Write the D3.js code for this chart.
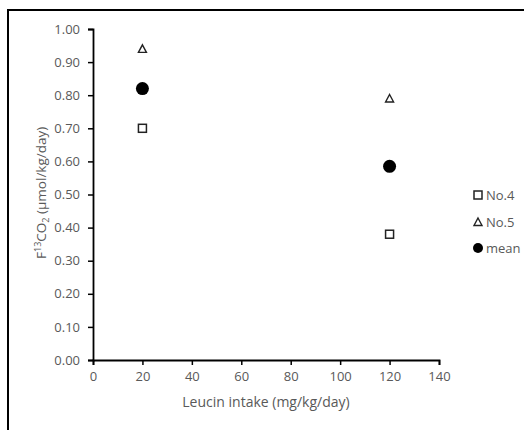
<!DOCTYPE html>
<html>
<head>
<meta charset="utf-8">
<script src="https://cdn.jsdelivr.net/npm/d3@7"></script>
<style>
  body { margin: 0; background: #fff; }
  text { font-family: "Open Sans", "Liberation Sans", sans-serif; }
</style>
</head>
<body>
<svg id="chart" width="524" height="430"></svg>
<script>
// Data
var intake = [20, 120];
var no4 = [0.70, 0.38];
var no5 = [0.94, 0.79];
var mean = [0.82, 0.585];
var xTicks = [0, 20, 40, 60, 80, 100, 120, 140];
var yTicks = [0, 0.1, 0.2, 0.3, 0.4, 0.5, 0.6, 0.7, 0.8, 0.9, 1.0];
var seriesNames = ['No.4', 'No.5', 'mean'];

var svg = d3.select('#chart');
var grey = '#595959';

// outer frame: only the top and left edges fall inside the window
svg.append('path')
  .attr('d', 'M8,430V10H524')
  .attr('fill', 'none').attr('stroke', '#000').attr('stroke-width', 2);

var x = d3.scaleLinear().domain([0, 140]).range([93, 439]);
var y = d3.scaleLinear().domain([0, 1]).range([360, 29]);

var g = svg.append('g');

// Y axis
var yAx = g.append('g')
  .attr('transform', 'translate(' + x(0) + ',0)')
  .call(d3.axisLeft(y).tickValues(yTicks).tickSize(5).tickPadding(8)
    .tickFormat(d3.format('.2f')));
// X axis
var xAx = g.append('g')
  .attr('transform', 'translate(0,' + y(0) + ')')
  .call(d3.axisBottom(x).tickValues(xTicks).tickSize(5).tickPadding(7));

[yAx, xAx].forEach(function(a) {
  a.select('.domain').attr('stroke', '#000').attr('stroke-width', 1.8);
  a.selectAll('.tick line').attr('stroke', '#000').attr('stroke-width', 1.5);
  a.selectAll('.tick text').attr('fill', grey).attr('font-size', 13)
    .style('font-family', '"Open Sans", sans-serif');
});

// axis titles
svg.append('text')
  .attr('x', x(70)).attr('y', 407)
  .attr('text-anchor', 'middle')
  .attr('font-size', 14).attr('fill', grey)
  .text('Leucin intake (mg/kg/day)');

var yt = svg.append('text')
  .attr('transform', 'translate(46,' + y(0.505) + ') rotate(-90)')
  .attr('text-anchor', 'middle')
  .attr('font-size', 13.5).attr('fill', grey);
yt.append('tspan').text('F');
yt.append('tspan').attr('font-size', 9).attr('dy', -5).text('13');
yt.append('tspan').attr('dy', 5).text('CO');
yt.append('tspan').attr('font-size', 9).attr('dy', 3).text('2');
yt.append('tspan').attr('dy', -3).text(' (µmol/kg/day)');

// marker drawers
function square(sel, cx, cy) {
  sel.append('rect')
    .attr('x', cx - 4).attr('y', cy - 4)
    .attr('width', 8).attr('height', 8)
    .attr('fill', '#fff').attr('stroke', '#222').attr('stroke-width', 1.5);
}
function triangle(sel, cx, cy) {
  sel.append('path')
    .attr('d', 'M' + cx + ',' + (cy - 4) + 'L' + (cx + 4) + ',' + (cy + 3.5) +
      'L' + (cx - 4) + ',' + (cy + 3.5) + 'Z')
    .attr('fill', '#fff').attr('stroke', '#222').attr('stroke-width', 1.4);
}
function dot(sel, cx, cy, r) {
  sel.append('circle')
    .attr('cx', cx).attr('cy', cy).attr('r', r)
    .attr('fill', '#000');
}

intake.forEach(function(v, i) {
  square(g, x(v), y(no4[i]));
  triangle(g, x(v), y(no5[i]));
  dot(g, x(v), y(mean[i]), 6.5);
});

// legend
var legY = [195, 222, 248];
var leg = svg.append('g');
seriesNames.forEach(function(name, i) {
  if (i === 0) square(leg, 478, legY[i]);
  if (i === 1) triangle(leg, 478, legY[i]);
  if (i === 2) dot(leg, 478, legY[i], 5);
  leg.append('text')
    .attr('x', 486).attr('y', legY[i] + 4.5)
    .attr('font-size', 13).attr('fill', grey)
    .text(name);
});
</script>
</body>
</html>
